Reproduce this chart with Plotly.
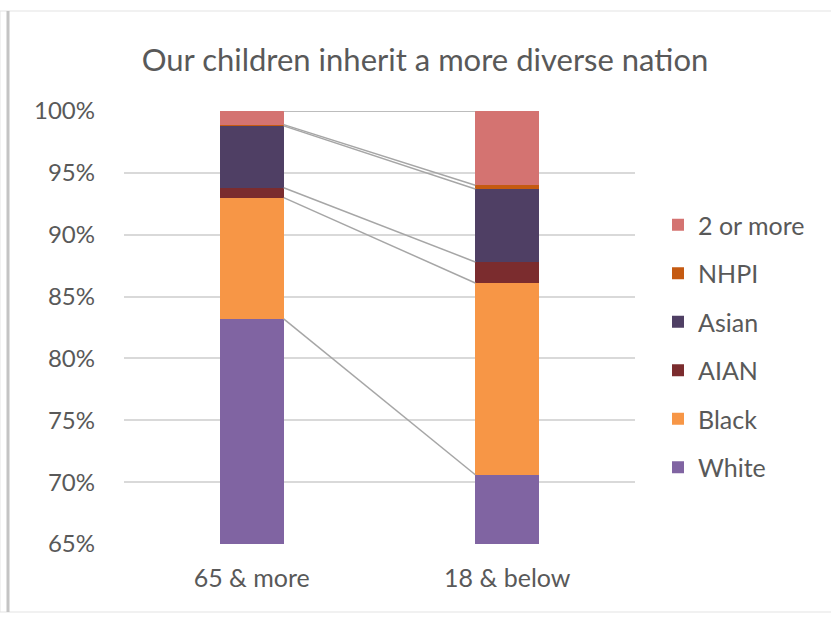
import numpy as np
import plotly.graph_objects as go

categories = ["65 & more", "18 & below"]
series_names = ["White", "Black", "AIAN", "Asian", "NHPI", "2 or more"]
white = [83.2, 70.6]
black = [9.8, 15.5]
aian = [0.8, 1.7]
asian = [5.0, 5.9]
nhpi = [0.1, 0.3]
two_or_more = [1.1, 6.0]
series_values = [white, black, aian, asian, nhpi, two_or_more]
colors = ["#8064A2", "#F79646", "#7B2C2E", "#4F3F64", "#C55A11", "#D47371"]
y_ticks = [65, 70, 75, 80, 85, 90, 95, 100]
y_tick_labels = [f"{v}%" for v in y_ticks]

bar_width = 0.25
xpos = np.arange(len(categories))
text_color = "#595959"
font_family = "Lato, 'Open Sans', sans-serif"

fig = go.Figure()
n = len(series_names)
for i, (name, vals, col) in enumerate(zip(series_names, series_values, colors)):
    fig.add_trace(go.Bar(
        x=xpos, y=vals, name=name, width=bar_width,
        marker=dict(color=col, line=dict(width=0)),
        legendgroup=name, legendrank=n - i,
    ))

# Series lines (connect the top of each segment between the two bars)
cum = np.cumsum(np.array(series_values), axis=0)
for row in cum:
    fig.add_trace(go.Scatter(
        x=[xpos[0] + bar_width / 2, xpos[1] - bar_width / 2],
        y=list(row), mode="lines",
        line=dict(color="#A6A6A6", width=1.5),
        showlegend=False, hoverinfo="skip",
    ))

fig.update_layout(
    width=831, height=617,
    barmode="stack",
    paper_bgcolor="white", plot_bgcolor="white",
    margin=dict(l=124, r=196, t=111, b=73),
    font=dict(family=font_family, color=text_color, size=24),
    title=dict(
        text="Our children inherit a more diverse nation",
        x=425 / 831, xref="container", xanchor="center",
        y=1 - 60 / 617, yref="container", yanchor="middle",
        font=dict(size=31, color=text_color, family=font_family),
    ),
    xaxis=dict(
        tickvals=list(xpos), ticktext=categories,
        range=[-0.5, 1.5], showgrid=False, zeroline=False,
        showline=False, ticks="", ticklabelstandoff=17,
        tickfont=dict(size=25, color=text_color),
    ),
    yaxis=dict(
        range=[65, 100], tickvals=y_ticks, ticktext=y_tick_labels,
        showgrid=True, gridcolor="#D9D9D9", gridwidth=1.5,
        zeroline=False, showline=False, ticks="",
        ticklabelstandoff=28,
        tickfont=dict(size=24, color=text_color),
    ),
    legend=dict(
        x=1.045, xanchor="left", y=(544 - 346) / 433, yanchor="middle",
        traceorder="grouped", tracegroupgap=13,
        font=dict(size=25, color=text_color),
        bgcolor="rgba(0,0,0,0)",
    ),
    shapes=[
        dict(type="rect", xref="paper", yref="paper",
             x0=-124 / 511, x1=1 + 196 / 511 + 0.01,
             y0=-68 / 433, y1=1 + 100 / 433,
             line=dict(color="#E3E3E3", width=1), layer="below"),
        dict(type="line", xref="paper", yref="paper",
             x0=-116 / 511, x1=-116 / 511,
             y0=-68 / 433, y1=1 + 100 / 433,
             line=dict(color="#C4C4C4", width=3), layer="below"),
    ],
)

fig.write_html("out.html")
